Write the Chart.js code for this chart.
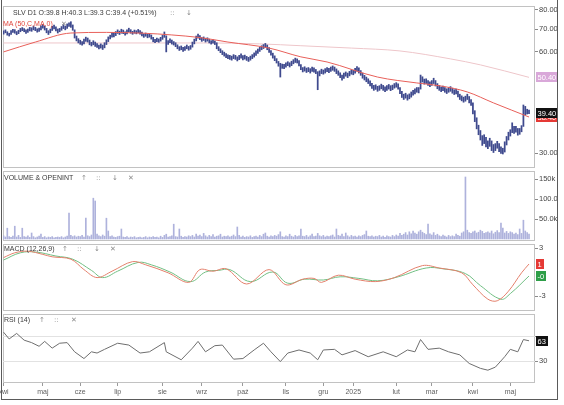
<!DOCTYPE html>
<html>
<head>
<meta charset="utf-8">
<script src="https://cdn.jsdelivr.net/npm/chart.js@4/dist/chart.umd.min.js"></script>
<style>
  html, body { margin: 0; padding: 0; background: #fff; }
  #wrap { position: relative; width: 564px; height: 405px; overflow: hidden; font-family: "Liberation Sans", Arial, sans-serif; }
  #wrap canvas { position: absolute; left: 0; top: 0; }
  .frame { position: absolute; left: 1px; top: -1px; width: 557px; height: 401px; border: 1px solid #5a5a5a; box-sizing: border-box; }
  .t { position: absolute; font-size: 7px; line-height: 8px; color: #3a3a3a; white-space: nowrap; }
  .ic { position: absolute; font-size: 7px; line-height: 8px; color: #8a8a8a; font-family: "DejaVu Sans", sans-serif; }
</style>
</head>
<body>
<div id="wrap">
  <canvas id="cPrice" width="564" height="405"></canvas>
  <canvas id="cVol" width="564" height="405"></canvas>
  <canvas id="cMacd" width="564" height="405"></canvas>
  <canvas id="cRsi" width="564" height="405"></canvas>
  <div class="frame"></div>

  <div class="t" style="left:13px;top:9px">SLV  D1  O:39.8 H:40.3 L:39.3 C:39.4 (+0.51%)</div>
  <div class="ic" style="left:170px;top:9px">::</div>
  <div class="ic" style="left:186px;top:9px">↓</div>
  <div class="t" style="left:3px;top:19.5px;color:#e0463c">MA (50,C,MA,0)</div>
  <div class="ic" style="left:61px;top:19.5px">✕</div>

  <div class="t" style="left:4px;top:173.5px">VOLUME &amp; OPENINT</div>
  <div class="ic" style="left:81px;top:173.5px">↑</div>
  <div class="ic" style="left:96px;top:173.5px">::</div>
  <div class="ic" style="left:112px;top:173.5px">↓</div>
  <div class="ic" style="left:128px;top:173.5px">✕</div>

  <div class="t" style="left:4px;top:244.5px">MACD (12,26,9)</div>
  <div class="ic" style="left:62px;top:244.5px">↑</div>
  <div class="ic" style="left:77px;top:244.5px">::</div>
  <div class="ic" style="left:94px;top:244.5px">↓</div>
  <div class="ic" style="left:110px;top:244.5px">✕</div>

  <div class="t" style="left:4px;top:316px">RSI (14)</div>
  <div class="ic" style="left:39px;top:316px">↑</div>
  <div class="ic" style="left:54px;top:316px">::</div>
  <div class="ic" style="left:71px;top:316px">✕</div>
</div>

<script>
// x axis: trading day index, month labels where each month starts
const monthDays = [0, 21, 41, 61, 85, 106, 128, 151, 171, 187, 210, 229, 251, 271]
const monthLabels = ["kwi", "maj", "cze", "lip", "sie", "wrz", "paź", "lis", "gru", "2025", "lut", "mar", "kwi", "maj"]

// daily bars, low / high
const lows = [
  67.8, 68.4, 67.3, 66.9, 67.7, 68.6, 68.2, 67.5, 68.0, 68.9,
  69.4, 68.9, 68.1, 68.6, 69.3, 69.1, 69.8, 69.4, 68.7, 69.0,
  69.8, 70.6, 69.7, 68.4, 67.6, 68.4, 69.5, 70.3, 69.3, 68.3,
  68.9, 69.6, 70.4, 69.8, 70.5, 71.4, 71.0, 69.6, 66.0, 64.7,
  63.8, 63.2, 62.8, 63.4, 64.5, 64.2, 63.0, 62.5, 63.0, 62.3,
  61.9, 61.2, 61.6, 61.0, 61.7, 63.1, 64.4, 65.6, 66.4, 66.5,
  67.1, 68.1, 67.6, 68.2, 68.0, 67.3, 67.9, 68.9, 68.2, 67.7,
  68.2, 67.9, 68.4, 67.8, 67.0, 66.3, 66.8, 66.1, 66.4, 65.5,
  64.3, 63.9, 64.4, 64.1, 64.6, 65.4, 66.3, 60.0, 63.2, 63.9,
  63.3, 62.9, 62.2, 61.3, 60.6, 60.9, 60.2, 60.6, 61.3, 60.7,
  61.1, 62.0, 63.4, 64.7, 65.9, 65.2, 64.5, 64.9, 64.2, 64.6,
  63.8, 63.3, 63.7, 63.1, 61.3, 60.5, 59.7, 58.9, 58.3, 57.7,
  57.3, 57.0, 56.7, 57.3, 57.0, 56.4, 56.9, 57.5, 56.8, 57.1,
  56.6, 56.2, 56.7, 57.3, 57.9, 58.6, 59.4, 60.2, 60.9, 61.4,
  61.8, 60.9, 59.8, 58.7, 57.5, 56.5, 55.6, 54.4, 50.5, 53.6,
  53.5, 54.0, 54.6, 54.1, 54.6, 55.3, 55.8, 55.6, 54.5, 53.1,
  52.3, 52.6, 52.1, 52.4, 51.9, 52.5, 52.2, 51.7, 46.3, 50.9,
  51.7, 51.5, 51.9, 52.4, 52.0, 52.5, 52.9, 52.5, 51.7, 51.1,
  50.3, 49.4, 50.0, 50.8, 50.3, 50.9, 51.5, 51.3, 51.9, 52.6,
  51.9, 51.1, 50.1, 49.5, 48.9, 48.3, 47.5, 46.7, 46.1, 46.4,
  45.8, 46.1, 46.6, 46.1, 45.7, 46.1, 46.5, 46.0, 46.3, 46.8,
  47.1, 46.5, 45.1, 43.9, 43.3, 43.7, 43.1, 43.5, 44.0, 44.6,
  45.0, 45.5, 45.3, 46.5, 48.8, 48.1, 48.3, 47.7, 47.3, 47.7,
  48.3, 47.5, 46.6, 46.1, 45.7, 46.0, 45.5, 45.1, 45.5, 45.8,
  45.2, 44.8, 45.0, 44.1, 43.3, 42.9, 42.5, 42.8, 43.3, 42.3,
  41.6, 39.2, 37.2, 35.4, 34.0, 32.8, 31.6, 32.0, 31.3, 30.9,
  31.4, 30.5, 30.1, 30.5, 31.0, 30.3, 29.9, 29.8, 30.2, 31.7,
  32.8, 33.7, 34.5, 34.3, 34.6, 33.9, 34.1, 34.7, 36.0, 39.0,
  39.2, 39.3
]
const highs = [
  69.3, 69.8, 68.9, 68.2, 69.4, 70.1, 69.9, 69.0, 69.6, 70.5,
  70.9, 70.4, 69.8, 70.2, 71.0, 70.8, 71.6, 71.0, 70.3, 70.6,
  71.7, 72.4, 71.6, 70.5, 69.4, 70.2, 71.5, 72.1, 71.3, 70.2,
  70.5, 71.4, 72.3, 71.6, 72.7, 73.3, 73.8, 72.2, 69.8, 66.9,
  65.7, 65.0, 64.4, 65.5, 66.4, 66.0, 65.1, 64.1, 64.8, 64.2,
  63.5, 62.9, 63.4, 62.9, 63.9, 65.2, 66.5, 67.3, 68.5, 68.2,
  69.0, 69.8, 69.2, 70.1, 69.7, 68.9, 69.8, 70.6, 69.9, 69.1,
  69.7, 69.4, 70.0, 69.4, 68.7, 67.9, 68.3, 67.7, 68.0, 67.4,
  66.3, 65.4, 66.0, 65.6, 66.3, 67.2, 68.8, 67.0, 64.9, 65.6,
  65.1, 64.4, 63.9, 63.0, 62.2, 62.5, 61.9, 62.2, 62.9, 62.3,
  62.7, 64.2, 65.5, 66.9, 67.8, 67.1, 66.2, 66.5, 65.9, 66.1,
  65.5, 64.8, 65.3, 64.7, 63.9, 62.2, 61.3, 60.5, 59.9, 59.3,
  58.8, 58.6, 58.3, 58.9, 58.6, 58.0, 58.6, 59.2, 58.5, 58.7,
  58.2, 57.8, 58.3, 58.9, 59.6, 60.4, 61.2, 62.0, 62.6, 63.1,
  63.6, 62.9, 61.8, 60.6, 59.5, 58.4, 57.3, 56.2, 55.5, 55.2,
  55.1, 55.7, 56.1, 55.7, 56.3, 56.9, 57.5, 57.2, 56.5, 55.0,
  53.9, 54.2, 53.7, 53.9, 53.5, 54.1, 53.8, 53.2, 52.4, 52.7,
  53.3, 53.0, 53.5, 53.9, 53.6, 54.1, 54.5, 54.1, 53.4, 52.7,
  52.0, 51.2, 51.9, 52.3, 51.9, 52.5, 53.1, 52.9, 53.6, 54.3,
  53.8, 52.8, 51.9, 51.1, 50.5, 49.9, 49.2, 48.4, 47.7, 47.9,
  47.4, 47.6, 48.1, 47.7, 47.2, 47.6, 48.0, 47.6, 47.8, 48.3,
  48.6, 48.2, 47.0, 45.8, 44.9, 45.2, 44.7, 45.0, 45.6, 46.1,
  46.6, 47.0, 47.0, 51.2, 50.6, 49.8, 49.9, 49.3, 48.9, 49.3,
  50.1, 49.3, 48.3, 47.7, 47.2, 47.5, 47.0, 46.6, 47.0, 47.3,
  46.8, 46.3, 46.5, 45.9, 44.9, 44.4, 44.0, 44.3, 44.9, 44.2,
  43.3, 42.3, 40.1, 38.2, 36.3, 35.0, 33.8, 34.0, 33.4, 32.6,
  33.2, 32.6, 31.8, 32.0, 32.5, 32.0, 31.3, 31.0, 32.4, 33.6,
  34.6, 35.2, 36.9, 36.0, 36.0, 35.5, 35.5, 36.2, 41.7, 41.3,
  40.5, 40.3
]
const lastClose = 39.4

// moving averages read at a few days
const ma50Days = [0, 17, 36, 55, 75, 90, 105, 120, 142, 159, 173, 200, 221, 234, 248, 262, 281]
const ma50Vals = [60.0, 64.2, 68.3, 68.6, 68.2, 67.4, 66.2, 64.2, 61.6, 58.0, 56.0, 50.5, 48.5, 47.5, 45.6, 42.3, 38.4]
const ma200Days = [0, 107, 137, 159, 186, 212, 239, 255, 281]
const ma200Vals = [63.8, 63.8, 63.4, 62.6, 61.6, 60.4, 57.2, 54.9, 50.4]

// volume in thousands
const volumes = [
  8, 5, 27, 6, 4, 7, 32, 5, 9, 4,
  27, 6, 5, 8, 4, 15, 6, 3, 5, 7,
  12, 4, 6, 3, 5, 4, 6, 3, 4, 5,
  4, 6, 3, 5, 7, 65, 9, 6, 8, 5,
  7, 6, 9, 5, 52, 8, 6, 10, 102, 95,
  12, 8, 6, 10, 7, 52, 20, 6, 8, 5,
  4, 6, 7, 25, 5, 4, 6, 3, 5, 4,
  6, 3, 4, 5, 3, 4, 6, 3, 5, 4,
  6, 4, 5, 3, 7, 4, 9, 12, 5, 6,
  8, 37, 6, 5, 25, 7, 4, 6, 5, 8,
  6, 9, 5, 12, 7, 10, 6, 14, 8, 5,
  9, 6, 11, 5, 7, 8, 12, 5, 7, 6,
  8, 5, 7, 10, 6, 30, 9, 5, 7, 4,
  6, 5, 8, 4, 6, 7, 5, 9, 6, 12,
  15, 7, 5, 8, 6, 9, 7, 11, 18, 6,
  5, 8, 6, 12, 7, 5, 9, 6, 8, 25,
  7, 6, 9, 5, 8, 12, 6, 7, 14, 8,
  6, 9, 5, 7, 6, 8, 10, 5, 25, 9,
  7, 12, 6, 15, 8, 5, 9, 6, 7, 5,
  8, 6, 9, 11, 20, 7, 6, 8, 5, 7,
  6, 9, 5, 7, 4, 8, 6, 5, 9, 6,
  10, 7, 14, 9, 12, 16, 10, 18, 13, 20,
  15, 12, 18, 22, 17, 14, 11, 37, 13, 10,
  16, 9, 12, 8, 6, 10, 7, 5, 9, 6,
  8, 6, 12, 9, 7, 15, 18, 155, 22, 16,
  14, 18, 20, 15, 17, 22, 19, 14, 16, 18,
  15, 20, 13, 17, 21, 16, 40, 27, 15, 19,
  14, 18, 16, 12, 15, 11, 25, 14, 47, 20,
  16, 12
]
const volTicks = [50, 100, 150]
const volTickLabels = ["50.0k", "100.0k", "150k"]

// MACD line and signal
const macdDays = [0, 6, 13, 21, 26, 36, 43, 50, 58, 69, 76, 88, 99, 105, 112, 119, 130, 142, 151, 160, 166, 170, 179, 188, 199, 209, 224, 233, 245, 251, 259, 264, 270, 277, 281]
const macdVals = [1.8, 2.4, 2.6, 2.2, 1.9, 1.6, 0.3, -0.7, 0.1, 1.3, 0.9, -0.1, -1.3, 0.3, 0.1, 0.4, -1.5, 0.3, -1.6, -0.9, -0.8, -1.3, -0.4, -0.9, -1.2, -0.7, 0.8, 0.5, -0.1, -1.6, -3.4, -3.6, -2.4, -0.1, 1.0]
const signalDays = [0, 9, 17, 28, 37, 47, 53, 61, 72, 79, 89, 100, 108, 115, 121, 132, 144, 152, 161, 171, 180, 190, 200, 211, 226, 235, 247, 255, 266, 271, 281]
const signalVals = [1.5, 2.4, 2.5, 2.0, 1.6, 0.2, -0.7, 0.1, 1.2, 0.9, 0.0, -1.2, 0.0, 0.2, 0.3, -1.2, 0.0, -1.4, -0.9, -1.0, -0.6, -0.8, -1.1, -0.6, 0.5, 0.4, -0.2, -1.7, -3.4, -2.7, -0.5]

// RSI(14)
const rsiDays = [0, 3, 7, 11, 15, 19, 22, 26, 30, 34, 38, 43, 47, 50, 54, 61, 67, 73, 78, 86, 87, 95, 101, 104, 108, 113, 117, 123, 128, 134, 139, 143, 148, 152, 158, 164, 168, 171, 177, 181, 188, 195, 203, 210, 216, 220, 223, 227, 233, 238, 244, 249, 255, 259, 263, 268, 271, 275, 278, 281]
const rsiVals = [77, 66, 75, 64, 60, 54, 62, 51, 59, 60, 45, 34, 45, 43, 49, 59, 56, 43, 45, 60, 45, 32, 51, 62, 45, 55, 56, 33, 34, 48, 59, 45, 29, 43, 48, 43, 32, 48, 49, 40, 47, 37, 45, 37, 48, 45, 65, 49, 51, 45, 40, 26, 18, 15, 20, 37, 49, 45, 65, 63]

const FONT = '"Liberation Sans", Arial, sans-serif'
Chart.defaults.font.family = FONT
const X_MIN = -0.3, X_MAX = 284.2

const pts = (days, vals) => days.map((d, i) => ({ x: d, y: vals[i] }))

function xAxis(show) {
  return {
    type: "linear", min: X_MIN, max: X_MAX, offset: false, display: show,
    grid: { drawOnChartArea: false, tickLength: 3, color: "#9a9a9a", offset: false },
    border: { display: false },
    ticks: { autoSkip: false, maxRotation: 0, padding: 2, color: "#606060", font: { size: 7, family: FONT },
      callback: (v, i) => monthLabels[i] },
    afterBuildTicks: (s) => { s.ticks = monthDays.map((d) => ({ value: d })) },
    afterFit: (s) => { s.height = show ? 17 : 0; s.paddingLeft = 0; s.paddingRight = 0 }
  }
}

function yAxis(cfg) {
  return {
    type: cfg.type || "linear", position: "right", min: cfg.min, max: cfg.max,
    grid: { drawOnChartArea: !!cfg.lines, color: "#e2e2e2", tickColor: "#8a8a8a", tickLength: 3 },
    border: { display: false },
    ticks: { padding: 1, color: "#454545", font: { size: 7.5, family: FONT }, callback: cfg.fmt },
    afterBuildTicks: (s) => { s.ticks = cfg.ticks.map((v) => ({ value: v })) },
    afterFit: (s) => { s.width = 23; s.paddingTop = 0; s.paddingBottom = 0 }
  }
}

function options(padTop, padBottom, y, showX) {
  return {
    responsive: false, animation: false, events: [],
    layout: { padding: { left: 3, right: 6, top: padTop, bottom: padBottom } },
    plugins: { legend: { display: false }, tooltip: { enabled: false } },
    scales: { x: xAxis(showX), y: y }
  }
}

// light box round each panel
const panelFrame = {
  id: "panelFrame",
  beforeDraw(chart) {
    const { ctx, chartArea: a } = chart
    ctx.save()
    ctx.strokeStyle = "#c2c2c2"
    ctx.lineWidth = 1
    ctx.strokeRect(Math.round(a.left) + 0.5, Math.round(a.top) + 0.5, Math.round(a.width) - 1, Math.round(a.height) - 1)
    ctx.restore()
  }
}

// coloured value boxes on the right axis
function tagPlugin(tags) {
  return {
    id: "tags",
    afterDraw(chart) {
      const { ctx, chartArea: a } = chart
      const ys = chart.scales.y
      ctx.save()
      ctx.font = "7.5px " + FONT
      ctx.textBaseline = "middle"
      tags.forEach((t) => {
        const y = Math.round(ys.getPixelForValue(t.value))
        const w = Math.ceil(ctx.measureText(t.text).width) + 3
        ctx.fillStyle = t.bg
        ctx.fillRect(a.right + 1, y - 5, w, 10)
        ctx.fillStyle = t.fg
        ctx.fillText(t.text, a.right + 2.5, y + 0.5)
      })
      ctx.restore()
    }
  }
}

const shortNum = (v) => (v < 0 ? "-" : "") + Math.trunc(Math.abs(v))

// price panel (log scale)
new Chart(document.getElementById("cPrice"), {
  type: "bar",
  data: {
    datasets: [
      { type: "line", data: pts(ma50Days, ma50Vals), borderColor: "#e8605a", borderWidth: 1, pointRadius: 0, cubicInterpolationMode: "monotone", order: 1 },
      { type: "line", data: pts(ma200Days, ma200Vals), borderColor: "#eec6ca", borderWidth: 1, pointRadius: 0, cubicInterpolationMode: "monotone", order: 3 },
      { type: "bar", data: lows.map((l, i) => ({ x: i, y: [l, highs[i]] })), backgroundColor: "#3f4a8e", barThickness: 1.1, order: 2 }
    ]
  },
  options: options(6, 405 - 168, yAxis({ type: "logarithmic", min: 27.07, max: 82.2, ticks: [30, 60, 70, 80], fmt: (v) => v.toFixed(2) }), false),
  plugins: [panelFrame, tagPlugin([
    { value: ma50Vals[ma50Vals.length - 1], text: ma50Vals[ma50Vals.length - 1].toFixed(2), bg: "#e53935", fg: "#fff" },
    { value: ma200Vals[ma200Vals.length - 1], text: ma200Vals[ma200Vals.length - 1].toFixed(2), bg: "#d9a8d9", fg: "#fff" },
    { value: lastClose, text: lastClose.toFixed(2), bg: "#111", fg: "#fff" }
  ])]
})

// volume panel
new Chart(document.getElementById("cVol"), {
  type: "bar",
  data: { datasets: [{ data: volumes.map((v, i) => ({ x: i, y: v })), backgroundColor: "#aeb2dc", barThickness: 1 }] },
  options: options(171, 405 - 241, yAxis({ min: -5, max: 170, ticks: volTicks, fmt: (v, i) => volTickLabels[i] }), false),
  plugins: [panelFrame]
})

// MACD panel
new Chart(document.getElementById("cMacd"), {
  type: "line",
  data: {
    datasets: [
      { data: pts(macdDays, macdVals), borderColor: "#e4806c", borderWidth: 1, pointRadius: 0, tension: 0.35 },
      { data: pts(signalDays, signalVals), borderColor: "#72bf84", borderWidth: 1, pointRadius: 0, tension: 0.4 }
    ]
  },
  options: options(244, 405 - 311, yAxis({ min: -4.875, max: 3.5, ticks: [-3, 3], fmt: (v) => String(v) }), false),
  plugins: [panelFrame, tagPlugin([
    { value: macdVals[macdVals.length - 1], text: shortNum(macdVals[macdVals.length - 1]), bg: "#e53935", fg: "#fff" },
    { value: signalVals[signalVals.length - 1], text: shortNum(signalVals[signalVals.length - 1]), bg: "#2e9e48", fg: "#fff" }
  ])]
})

// RSI panel with the time axis
new Chart(document.getElementById("cRsi"), {
  type: "line",
  data: { datasets: [{ data: pts(rsiDays, rsiVals), borderColor: "#6e6e6e", borderWidth: 1, pointRadius: 0, tension: 0 }] },
  options: options(314, 5, yAxis({ min: -5.9, max: 106.7, ticks: [30, 70], lines: true, fmt: (v) => (v === 30 ? "30" : "") }), true),
  plugins: [panelFrame, tagPlugin([
    { value: rsiVals[rsiVals.length - 1], text: String(rsiVals[rsiVals.length - 1]), bg: "#111", fg: "#fff" }
  ])]
})
</script>
</body>
</html>
